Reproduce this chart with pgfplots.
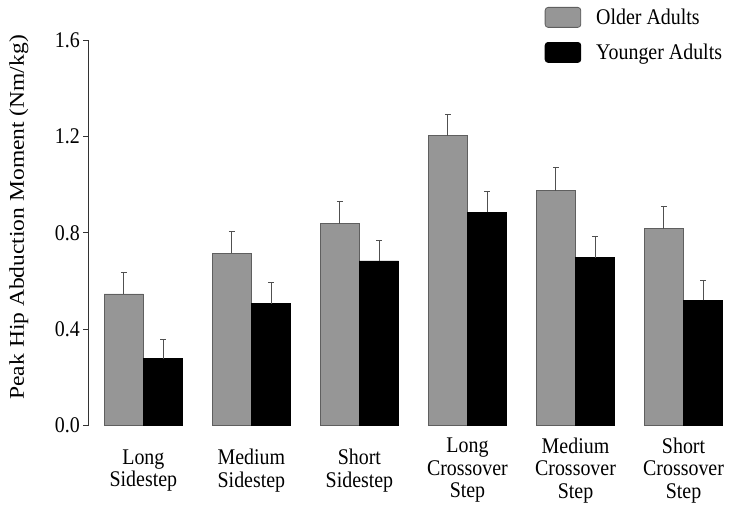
\documentclass[border=0pt]{standalone}
\usepackage{pgfplots}
\pgfplotsset{compat=1.18}
\usepackage{pgfplotstable}
\usepackage{fontspec}
\setmainfont{Liberation Serif}[FakeStretch=0.89]
\newfontfamily\ylfont{Liberation Serif}[FakeStretch=1.12]
\definecolor{oldgray}{RGB}{150,150,150}
\definecolor{edgegray}{RGB}{95,95,95}
\definecolor{errgray}{RGB}{80,80,80}
\pgfplotstableread{
x older olderr younger youngerr
0 0.546 0.088 0.277 0.079
1 0.715 0.090 0.506 0.087
2 0.838 0.090 0.683 0.086
3 1.202 0.088 0.885 0.085
4 0.975 0.096 0.697 0.086
5 0.816 0.094 0.519 0.084
}\datatable
\begin{document}
\begin{tikzpicture}
\begin{axis}[
  scale only axis, width=642pt, height=385.7pt,
  xmin=-0.51, xmax=5.43, ymin=0, ymax=1.6,
  axis y line*=left, axis x line*=bottom,
  x axis line style={draw=none},
  y axis line style={line width=0.8pt, color=black!80},
  ytick={0,0.4,0.8,1.2,1.6},
  yticklabel style={/pgf/number format/.cd, fixed, fixed zerofill, precision=1, /tikz/.cd, font=\fontsize{22.4}{24}\selectfont},
  /pgf/number format/assume math mode=true,
  ytick style={line width=0.8pt, color=black!80},
  tick align=outside, major tick length=5pt,
  xtick={0,1,2,3,4,5}, xtick style={draw=none},
  xticklabels={{Long\\Sidestep},{Medium\\Sidestep},{Short\\Sidestep},{Long\\Crossover\\Step},{Medium\\Crossover\\Step},{Short\\Crossover\\Step}},
  xticklabel style={align=center, anchor=center, yshift=-40pt, font=\fontsize{22.4}{22.5}\selectfont},
  ylabel={Peak Hip Abduction Moment (Nm/kg)},
  ylabel style={at={(axis description cs:-0.108,0.54)}, anchor=center, font=\ylfont\fontsize{21}{24}\selectfont},
  ybar=0pt, bar width=39.3pt,
  legend style={at={(axis description cs:0.711,1.0864)}, anchor=north west, draw=none, fill=none, inner sep=0pt, row sep=14pt, font=\fontsize{22.4}{24}\selectfont, column sep=0pt},
  legend cell align=left,
  legend image code/.code={\fill[#1, rounded corners=3pt] (0pt,-10pt) rectangle (35.7pt,10pt);},
  clip=false,
]
\addplot[fill=oldgray, draw=edgegray, line width=0.8pt,
  error bars/.cd, y dir=plus, y explicit,
  error bar style={errgray, line width=0.9pt},
  error mark options={errgray, rotate=90, mark size=2.8pt, line width=0.9pt}]
  table[x=x, y=older, y error plus=olderr]{\datatable};
\addlegendentry{\hspace{13pt}Older Adults}
\addplot[fill=black, draw=black, line width=0.8pt,
  error bars/.cd, y dir=plus, y explicit,
  error bar style={errgray, line width=0.9pt},
  error mark options={errgray, rotate=90, mark size=2.8pt, line width=0.9pt}]
  table[x=x, y=younger, y error plus=youngerr]{\datatable};
\addlegendentry{\hspace{13pt}Younger Adults}
\coordinate (sw) at (rel axis cs:0,0);
\coordinate (ne) at (rel axis cs:1,1);
\end{axis}
\pgfresetboundingbox
\path[use as bounding box] ([xshift=-88.3pt,yshift=-84.3pt]sw) rectangle ([xshift=1pt,yshift=40pt]ne);
\end{tikzpicture}
\end{document}
